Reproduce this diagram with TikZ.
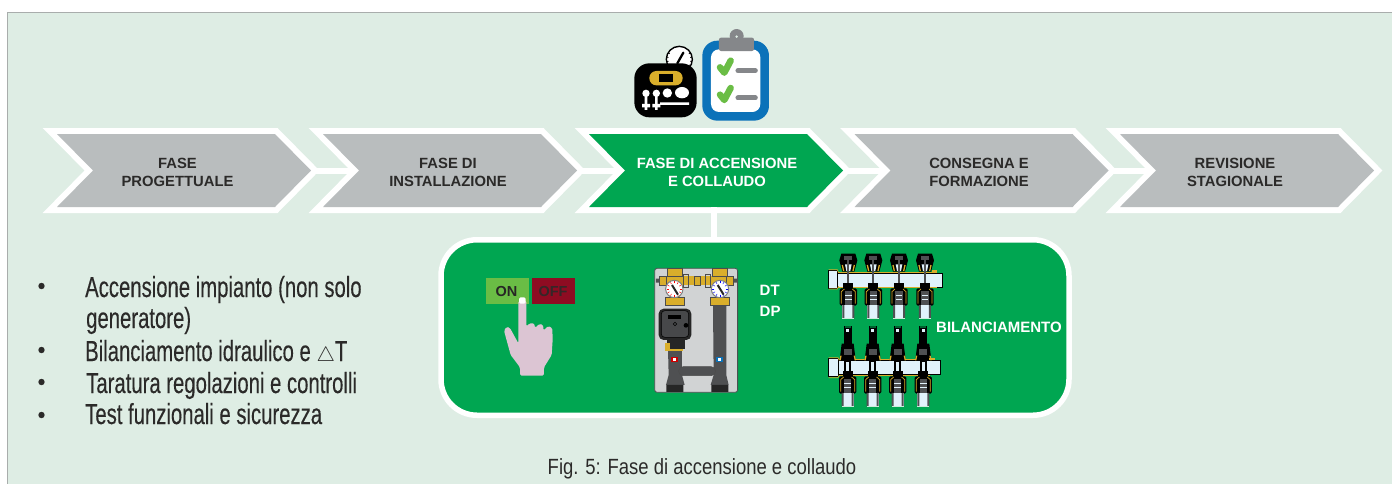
\documentclass[tikz,border=0pt]{standalone}
\usepackage{fontspec}
\setmainfont{Liberation Sans}
\newfontfamily\cond[FakeStretch=0.70,FakeBold=0.25]{Liberation Sans}
\newfontfamily\capf[FakeStretch=0.84]{Liberation Sans}
\definecolor{bgmint}{HTML}{DEEDE4}
\definecolor{framegrey}{HTML}{A9ADAC}
\definecolor{chevgrey}{HTML}{B9BDBE}
\definecolor{mygreen}{HTML}{00A651}
\definecolor{inktext}{HTML}{2B2A29}
\definecolor{tickgreen}{HTML}{6ABD45}
\definecolor{clipblue}{HTML}{0B72B9}
\definecolor{clipgrey}{HTML}{85878A}
\definecolor{brassy}{HTML}{D9AE2B}
\definecolor{offred}{HTML}{8E0C22}
\definecolor{handpink}{HTML}{DCC5D3}
\definecolor{panelgrey}{HTML}{D1D3D4}
\definecolor{pipegrey}{HTML}{4F5052}
\definecolor{iceblue}{HTML}{E1F2FB}
\tikzset{
  x=1pt,y=-1pt,
  chevout/.style={draw=white,line width=12pt,miter limit=10,line join=miter},
  chevlab/.style={font=\bfseries\fontsize{14.8}{17.8}\selectfont,text=inktext,align=center,inner sep=0pt},
  whitelab/.style={font=\bfseries\fontsize{15}{18}\selectfont,text=white,inner sep=0pt},
  bul/.style={font=\cond\fontsize{29}{32}\selectfont,text=inktext,anchor=base west,inner sep=0pt},
  zoomed/.style={x=0.3333pt,y=-0.3333pt},
}
\newcommand{\chevshape}[1]{(#1,134) -- (#1+218,134) -- (#1+254,170.5) -- (#1+218,207) -- (#1,207) -- (#1+36,170.5) -- cycle}
\newcommand{\valvelow}[2]{% x, top y (zoom units)
  \fill[black,rounded corners=1.5pt] (#1-26,#2+16) rectangle (#1+26,#2+68);
  \fill[black] (#1-15,#2) rectangle (#1+15,#2+20);
  \draw[brassy,line width=0.7pt] (#1-21,#2+62) -- (#1-21,#2+26) -- (#1-12,#2+18);
  \draw[brassy,line width=0.7pt] (#1+21,#2+62) -- (#1+21,#2+26) -- (#1+12,#2+18);
  \fill[pipegrey] (#1-11,#2+24) rectangle (#1+11,#2+66);
  \draw[iceblue,line width=0.7pt] (#1-10,#2+38) -- (#1+10,#2+38) (#1-10,#2+50) -- (#1+10,#2+50);
  \fill[iceblue] (#1-18,#2+66) rectangle (#1+18,#2+106);
  \fill[pipegrey] (#1-18,#2+66) rectangle (#1-12,#2+106) (#1+12,#2+66) rectangle (#1+18,#2+106);
  \fill[white!80!mygreen] (#1-18,#2+104) rectangle (#1+18,#2+108);
}
\begin{document}
\begin{tikzpicture}
\useasboundingbox (0,0) rectangle (1392,483);
\fill[white] (0,0) rectangle (1392,483);
\fill[bgmint,draw=framegrey,line width=1.4pt] (7.5,12.5) rectangle (1400,490);
% chevrons: outlines first
\foreach \cx in {57,323,589,854.5,1120}{\draw[chevout] \chevshape{\cx};}
\foreach \cx in {323,589,854.5,1120}{\draw[white,line width=6pt] (\cx-12,170.5) -- (\cx+36,170.5);}
\foreach \cx/\cc in {57/chevgrey,323/chevgrey,589/mygreen,854.5/chevgrey,1120/chevgrey}{\fill[\cc] \chevshape{\cx};}
\node[chevlab] (f1) at (177.5,172) {FASE\\PROGETTUALE};
\node[chevlab] (f2) at (448,172) {FASE DI\\INSTALLAZIONE};
\node[chevlab,text=white] (f3) at (717,172) {FASE DI ACCENSIONE\\E COLLAUDO};
\node[chevlab] (f4) at (979,172) {CONSEGNA E\\FORMAZIONE};
\node[chevlab] (f5) at (1235,172) {REVISIONE\\STAGIONALE};
\coordinate (f3foot) at (714,207);
% panel
\node[draw=white,fill=mygreen,line width=5.5pt,rounded corners=36pt,minimum width=628pt,minimum height=175.5pt,inner sep=0pt] (panel) at (755,327.5) {};
\draw[white,line width=5.5pt] (f3foot) -- (f3foot |- panel.north);
% dial icon
\begin{scope}[shift={(620,10)},zoomed]
  \filldraw[fill=white,draw=black,line width=1.4pt] (178,148) circle (39);
  \foreach \a in {150,170,...,390}{\draw[black,line width=0.7pt] (178,148)++(\a:-33) -- ++(\a:-5);}
  \draw[black,line width=2.3pt,line cap=round] (172,160) -- (190,128);
  \fill[black,rounded corners=15pt] (43,160) rectangle (230,322);
  \fill[brassy,rounded corners=7pt] (88,183) rectangle (188,226);
  \fill[black] (118,193) rectangle (158,215);
  \fill[white] (78,250) circle (11) (109,250) circle (11) (142,249) circle (14) (186,248) ellipse (21 and 17);
  \fill[white] (74,258) rectangle (82,300) (105,258) rectangle (113,300) (120,277) rectangle (207,285);
  \fill[white] (66,282) rectangle (90,292) (97,282) rectangle (121,292);
\end{scope}
% clipboard icon
\begin{scope}[shift={(620,10)},zoomed]
  \fill[clipblue,rounded corners=15pt] (247,92) rectangle (447,332);
  \fill[white,rounded corners=8pt] (273,118) rectangle (421,306);
  \fill[clipgrey] (350,78) circle (21);
  \fill[clipgrey,rounded corners=2pt] (297,83) rectangle (402,123);
  \fill[bgmint] (350,80) circle (4);
  \foreach \dy in {0,82}{
    \draw[tickgreen,line width=6.5pt,line cap=round,line join=round] (300,172+\dy) -- (313,188+\dy) -- (332,152+\dy);
    \draw[clipgrey,line width=5pt,line cap=round] (354,182+\dy) -- (406,182+\dy);
  }
\end{scope}
% on/off + hand
\fill[tickgreen] (486,278) rectangle (529,304);
\fill[offred] (532,278) rectangle (575,304);
\node[font=\bfseries\fontsize{14.5}{16}\selectfont,text=inktext!90!black,inner sep=0pt] (on) at (506.5,291.5) {ON};
\node[font=\bfseries\fontsize{14.5}{16}\selectfont,text=inktext!90!offred,inner sep=0pt] (off) at (553,291.5) {OFF};
\begin{scope}[shift={(470,260)},zoomed]
  \fill[handpink,line join=round,rounded corners=1.5pt] (145,122) -- (169,122) -- (169,200) -- (178,190) -- (193,190) -- (195,204) -- (207,192) -- (219,194) -- (221,212) -- (234,198) -- (247,204) -- (248,240) -- (245,285) -- (222,322) -- (222,347) -- (150,347) -- (150,322) -- (122,285) -- (102,212) -- (110,200) -- (120,204) -- (145,250) -- cycle;
  \fill[white,rounded corners=1.5pt] (147,112) rectangle (167,131);
\end{scope}
% pump group
\begin{scope}[shift={(470,260)},zoomed]
  \filldraw[fill=panelgrey,draw=pipegrey,line width=0.8pt,rounded corners=2.5pt] (554,25) rectangle (803,397);
  % pipes
  \fill[pipegrey] (594,265) -- (636,265) -- (636,345) -- (644,375) -- (588,375) -- (596,345) -- cycle;
  \fill[pipegrey] (729,130) -- (769,130) -- (769,345) -- (776,375) -- (722,375) -- (731,345) -- cycle;
  \filldraw[fill=pipegrey,draw=black!70,line width=0.5pt,rounded corners=4.5pt] (626,320) rectangle (737,347);
  \fill[black!85] (589,375) rectangle (640,396) (724,375) rectangle (775,396);
  % brass
  \fill[brassy] (568,48) rectangle (790,76);
  \fill[pipegrey] (558,56) rectangle (568,68) (790,56) rectangle (802,68);
  \draw[black!70,line width=0.7pt] (568,48) rectangle (590,76) (640,42) rectangle (656,82) (706,42) rectangle (722,82) (672,48) rectangle (690,76) (770,48) rectangle (790,76);
  \fill[brassy] (600,40) rectangle (630,112) (736,40) rectangle (764,112);
  \filldraw[fill=brassy,draw=black!70,line width=0.7pt] (592,26) rectangle (636,48);
  \filldraw[fill=brassy,draw=black!70,line width=0.7pt] (728,26) rectangle (772,48);
  \filldraw[fill=brassy,draw=black!70,line width=0.7pt] (586,112) rectangle (642,135);
  \filldraw[fill=brassy,draw=black!70,line width=0.7pt] (722,112) rectangle (778,135);
  % gauges
  \foreach \gx/\gc in {613/red,750/blue}{
    \filldraw[fill=white,draw=panelgrey!60!black,line width=1pt] (\gx,87) circle (26);
    \foreach \a in {0,30,...,330}{\draw[\gc,line width=0.5pt] (\gx,87)++(\a:17) -- ++(\a:6);}
    \draw[black!85,line width=2pt] (\gx-7,75) -- (\gx+11,104);
  }
  % pump
  \fill[black!85,rounded corners=5pt] (566,146) rectangle (664,240);
  \filldraw[fill=pipegrey!90!black,draw=black,line width=0.5pt,rounded corners=3.5pt] (574,152) rectangle (656,232);
  \fill[black] (594,165) rectangle (634,176);
  \draw[black,line width=0.5pt] (615,192) circle (5);
  \fill[black] (648,196) circle (7);
  \fill[black!85] (590,238) rectangle (645,255);
  \fill[brassy] (586,250) rectangle (640,272);
  \fill[black!85] (600,248) rectangle (646,266);
  % labels
  \fill[red!80!black] (604,291) rectangle (624,305);
  \fill[white] (609,294) rectangle (619,302);
  \fill[clipblue] (739,291) rectangle (759,305);
  \fill[white] (744,294) rectangle (754,302);
\end{scope}
\node[whitelab,anchor=base west] (dt) at (759.5,295) {DT};
\node[whitelab,anchor=base west] (dp) at (759.5,316.5) {DP};
% manifolds
\begin{scope}[shift={(810,245)},zoomed]
  % top manifold
  \filldraw[fill=iceblue,draw=black,line width=1pt] (72,85) rectangle (398,127);
  \draw[brassy,line width=0.5pt] (80,82) -- (380,82) (80,128) -- (380,128);
  \filldraw[fill=iceblue,draw=black,line width=1pt] (56,76) rectangle (82,130);
  \draw[brassy,line width=0.7pt] (56,74) -- (82,74) -- (86,84) (56,132) -- (82,132) -- (86,124);
  \foreach \vx in {115,190,267,345}{
    \fill[black] (\vx-21,26) -- (\vx+21,26) -- (\vx+27,46) -- (\vx+18,80) -- (\vx-18,80) -- (\vx-27,46) -- cycle;
    \fill[pipegrey] (\vx-12,32) rectangle (\vx+12,44);
    \draw[brassy,line width=1.3pt] (\vx-18,60) -- (\vx-14,78) (\vx+18,60) -- (\vx+14,78);
    \fill[iceblue] (\vx-10,58) -- (\vx+10,58) -- (\vx+6,78) -- (\vx-6,78) -- cycle;
    \draw[pipegrey,line width=2.3pt] (\vx,38) -- (\vx,118);
    \valvelow{\vx}{114}
  }
  \fill[brassy] (365,76) rectangle (382,84);
  % bottom manifold
  \filldraw[fill=iceblue,draw=black,line width=1pt] (72,347) rectangle (392,389);
  \draw[brassy,line width=0.5pt] (80,344) -- (360,344) (80,392) -- (360,392);
  \filldraw[fill=iceblue,draw=black,line width=1pt] (56,340) rectangle (84,396);
  \draw[brassy,line width=0.7pt] (56,338) -- (84,338) -- (88,346) (56,398) -- (84,398) -- (88,390);
  \foreach \vx in {113,188,263,340}{
    \fill[black] (\vx-12,243) rectangle (\vx+12,300);
    \fill[iceblue] (\vx-5,252) rectangle (\vx+5,262);
    \fill[mygreen!60!black] (\vx-9,244) rectangle (\vx+9,248);
    \fill[black] (\vx-18,296) -- (\vx+18,296) -- (\vx+24,346) -- (\vx-24,346) -- cycle;
    \fill[pipegrey] (\vx-12,312) rectangle (\vx+12,330);
    \draw[brassy,line width=1.3pt] (\vx-20,332) -- (\vx-23,346) (\vx+20,332) -- (\vx+23,346);
    \fill[black] (\vx-11,346) rectangle (\vx+11,396);
    \fill[iceblue] (\vx-4,352) rectangle (\vx+4,386);
    \valvelow{\vx}{378}
  }
  \fill[brassy] (358,338) rectangle (374,346);
\end{scope}
\node[whitelab,anchor=west] (bil) at (936,327) {BILANCIAMENTO};
% bullets
\foreach \by in {286,350,382,415}{\fill[inktext] (41.5,\by) circle (3.2);}
\node[bul] (b1) at (85,297) {Accensione impianto (non solo};
\node[bul] (b1b) at (86,328) {generatore)};
\node[bul] (b2) at (85,361) {Bilanciamento idraulico e {\fontsize{22}{24}\selectfont$\triangle$}T};
\node[bul] (b3) at (86,393) {Taratura regolazioni e controlli};
\node[bul] (b4) at (85,424) {Test funzionali e sicurezza};
\node[font=\capf\fontsize{22}{24}\selectfont,text=inktext,anchor=base] (cap) at (702,474) {Fig. 5: Fase di accensione e collaudo};
\end{tikzpicture}
\end{document}
